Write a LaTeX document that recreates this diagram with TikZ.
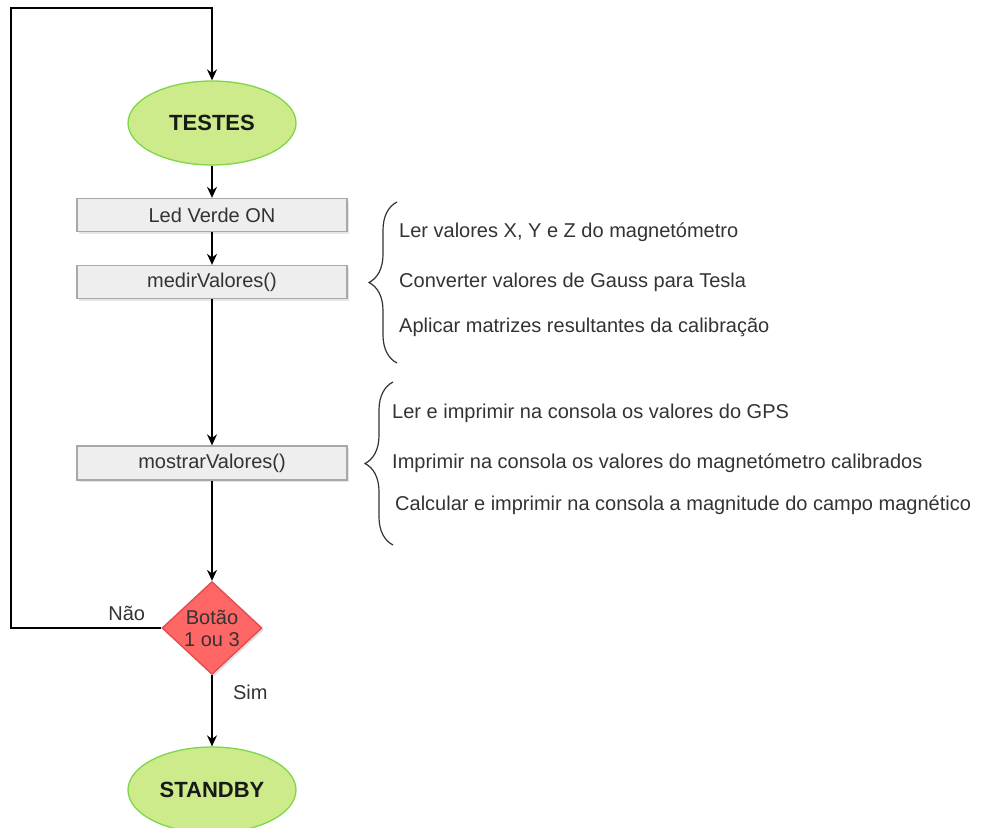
\documentclass[tikz,border=0pt]{standalone}
\usepackage{fontspec}
\setmainfont{Liberation Sans}
\usetikzlibrary{positioning, arrows.meta, shapes.geometric, shadows, decorations.pathreplacing}
\definecolor{okfill}{HTML}{CDEB8B}
\definecolor{okline}{HTML}{7ED64A}
\definecolor{boxfill}{HTML}{EEEEEE}
\definecolor{boxline}{HTML}{A8A8A8}
\definecolor{redfill}{HTML}{FF6666}
\definecolor{redline}{HTML}{E24B4B}
\definecolor{txt}{HTML}{333333}
\tikzset{
	>={Stealth[length=11pt, width=10pt]},
	every node/.style={font=\fontsize{20}{22}\selectfont, text=txt},
	estado/.style={ellipse, draw=okline, fill=okfill, line width=1.3pt, minimum width=168pt, minimum height=84pt, inner sep=0pt, font=\fontsize{22}{26}\selectfont\bfseries, text=black!90},
	funcao/.style={rectangle, draw=boxline, fill=boxfill, line width=1.3pt, minimum width=270pt, minimum height=33pt, inner sep=0pt, drop shadow={shadow xshift=2pt, shadow yshift=-2pt, opacity=0.2}},
	decisao/.style={diamond, draw=redline, fill=redfill, line width=1.3pt, minimum width=100pt, minimum height=93pt, inner sep=0pt, aspect=1.07, align=center, drop shadow={shadow xshift=2pt, shadow yshift=-2pt, opacity=0.25}},
	chaveta/.style={decorate, decoration={brace, amplitude=28pt}, line width=1.2pt, draw=black!80},
	item/.style={anchor=west, inner sep=0pt},
	liga/.style={->, line width=1.4pt},
}
\begin{document}
\begin{tikzpicture}[x=1pt, y=-1pt]
	\useasboundingbox (0,0) rectangle (982,827);
	\node[estado] (TESTES) at (212,123) {TESTES};
	\node[funcao] (LED) at (212,215) {Led Verde ON};
	\node[funcao] (MEDIR) at (212,282) {medirValores()};
	\node[funcao, minimum height=34pt] (MOSTRAR) at (212,463) {mostrarValores()};
	\node[decisao] (BOTAO) at (212,628) {Botão\\1 ou 3};
	\node[estado, minimum height=86pt] (STANDBY) at (212,790) {STANDBY};
	\coordinate (ret0) at (11,628);
	\coordinate (ret1) at (11,8);
	
	\coordinate (c0) at (397,363);
	\coordinate (c1) at (397,202);
	\coordinate (c2) at (393,545);
	\coordinate (c3) at (393,382);
	\draw[chaveta] (c0) -- (c1);
	\draw[chaveta] (c2) -- (c3);
	\node[item] (t0) at (399,232) {Ler valores X, Y e Z do magnetómetro};
	\node[item] (t1) at (399,282) {Converter valores de Gauss para Tesla};
	\node[item] (t2) at (399,327) {Aplicar matrizes resultantes da calibração};
	\node[item] (t3) at (392,413) {Ler e imprimir na consola os valores do GPS};
	\node[item] (t4) at (392,463) {Imprimir na consola os valores do magnetómetro calibrados};
	\node[item] (t5) at (395,505) {Calcular e imprimir na consola a magnitude do campo magnético};
	
	\draw[liga] (TESTES) -- (LED);
	\draw[liga] (LED) -- (MEDIR);
	\draw[liga] (MEDIR) -- (MOSTRAR);
	\draw[liga] (MOSTRAR) -- (BOTAO);
	\draw[liga] (BOTAO) -- node[pos=0.24, right=17pt]{Sim} (STANDBY);
	\draw[liga] (BOTAO.west) -- node[pos=0.23, above=3pt]{Não} (ret0) -- (ret1) -| (TESTES.north);
\end{tikzpicture}
\end{document}
